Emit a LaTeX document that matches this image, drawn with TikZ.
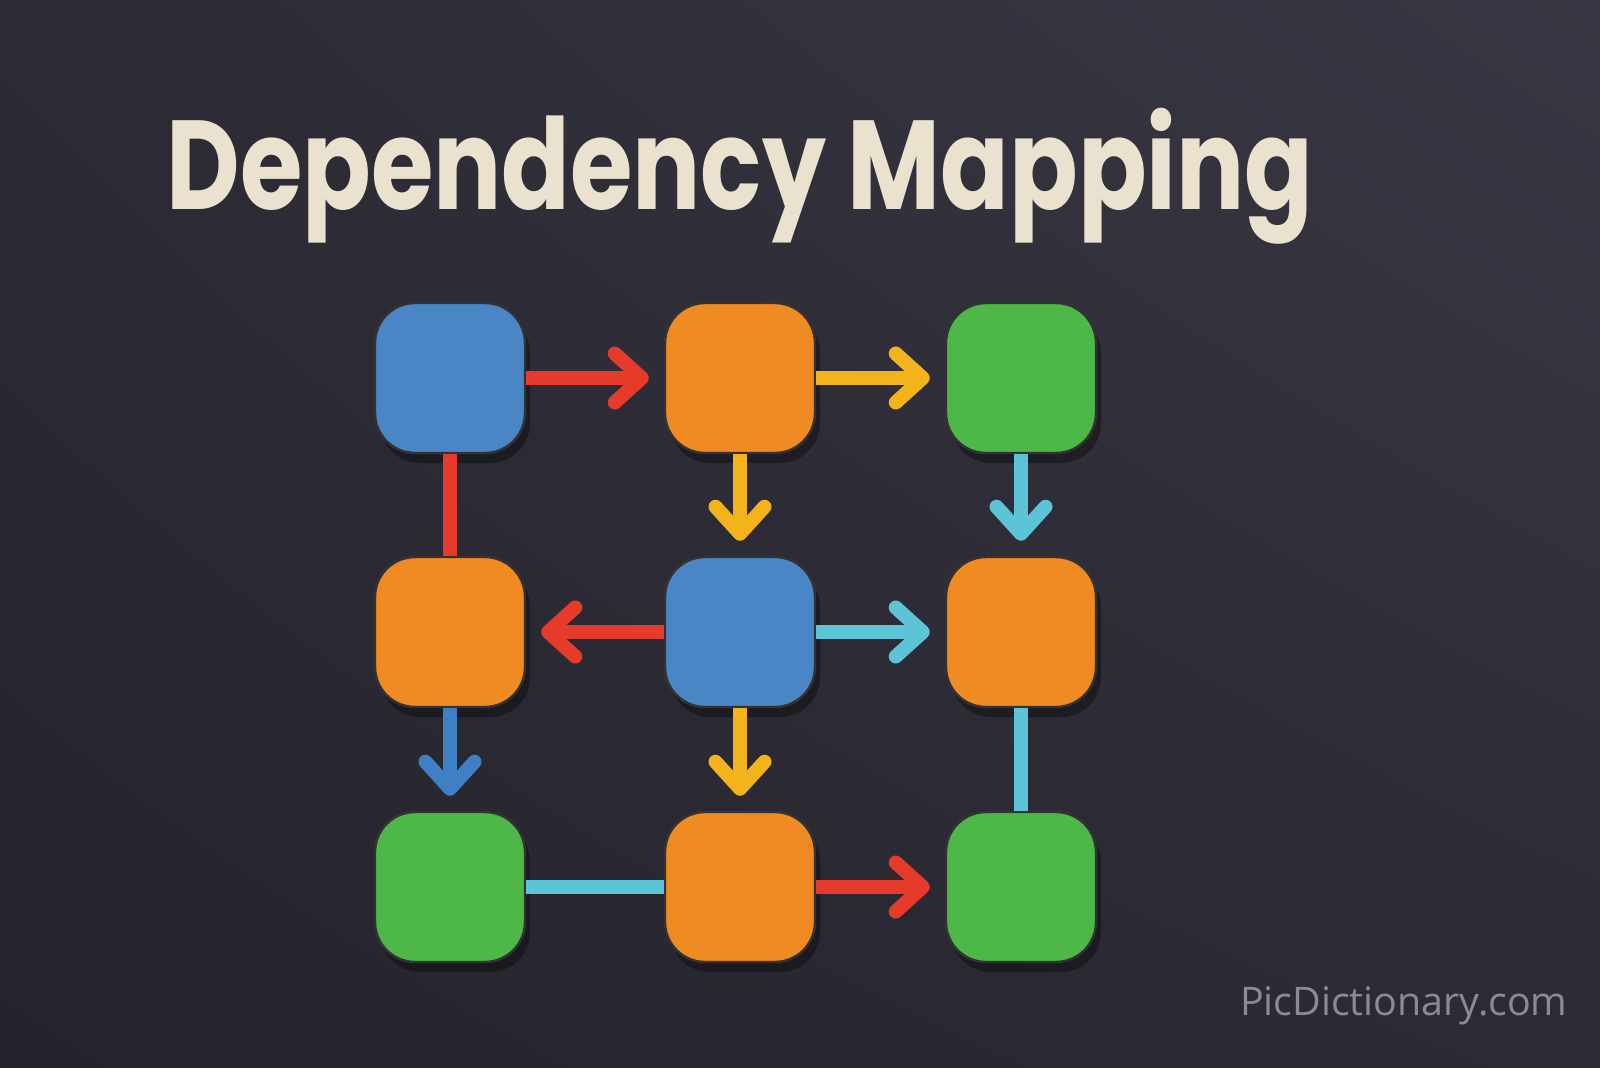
\documentclass[tikz,border=0pt]{standalone}
\usepackage{fontspec}
\setmainfont{Poppins}
\newfontfamily\markfont{Open Sans}
\usetikzlibrary{arrows.meta,shadows,shadings}
\definecolor{bgdark}{HTML}{25242C}
\definecolor{bgmid}{HTML}{2C2B35}
\definecolor{bglight}{HTML}{383743}
\definecolor{titlecream}{HTML}{EAE1CF}
\definecolor{markgray}{HTML}{8B8A90}
\definecolor{boxblue}{HTML}{4A86C5}
\definecolor{boxorange}{HTML}{F08A22}
\definecolor{boxgreen}{HTML}{4DB848}
\definecolor{linkred}{HTML}{E63B2A}
\definecolor{linkyellow}{HTML}{F2B31B}
\definecolor{linkcyan}{HTML}{5CC4D6}
\definecolor{linkblue}{HTML}{3F80C4}
\tikzset{
    box/.style={rectangle, rounded corners=4mm, minimum size=1.5cm,
    	draw=black!80, line width=0.7pt,
    	drop shadow={shadow xshift=0.5mm, shadow yshift=-1.0mm,
    	  fill=black, opacity=0.35}}
}
\tikzset{
    every edge/.append style={line width=4pt},
    tip/.style={-{Straight Barb[round, length=2.7mm, width=4.9mm]}, shorten >=1.5mm}
}

\begin{document}
\begin{tikzpicture}
  \shade[upper left=bgmid, upper right=bglight, lower left=bgdark, lower right=bgmid]
    (0,0) rectangle (16,10.67);
  \useasboundingbox (0,0) rectangle (16,10.67);

  \node (title) [anchor=base, text=titlecream, xscale=0.8,
    font=\bfseries\fontsize{36}{40}\selectfont] at (7.40, 8.58) {Dependency Mapping};
  \node (mark) [anchor=base east, text=markgray,
    font=\markfont\fontsize{11.2}{13}\selectfont] at (15.80, 0.52) {PicDictionary.com};

  \node (0) [box, fill=boxblue] at (4.50, 6.89) {};
  \node (1) [box, fill=boxorange] at (7.40, 6.89) {};
  \node (2) [box, fill=boxgreen] at (10.21, 6.89) {};
  \node (3) [box, fill=boxorange] at (4.50, 4.35) {};
  \node (4) [box, fill=boxblue] at (7.40, 4.35) {};
  \node (5) [box, fill=boxorange] at (10.21, 4.35) {};
  \node (6) [box, fill=boxgreen] at (4.50, 1.80) {};
  \node (7) [box, fill=boxorange] at (7.40, 1.80) {};
  \node (8) [box, fill=boxgreen] at (10.21, 1.80) {};

  \draw (0) edge [linkred, tip] (1); \draw (1) edge [linkyellow, tip] (2); \draw (0) edge [linkred] (3);
  \draw (1) edge [linkyellow, tip] (4); \draw (2) edge [linkcyan, tip] (5); \draw (4) edge [linkred, tip] (3);
  \draw (4) edge [linkcyan, tip] (5); \draw (3) edge [linkblue, tip] (6); \draw (4) edge [linkyellow, tip] (7);
  \draw (5) edge [linkcyan] (8); \draw (6) edge [linkcyan] (7); \draw (7) edge [linkred, tip] (8);
\end{tikzpicture}
\end{document}
